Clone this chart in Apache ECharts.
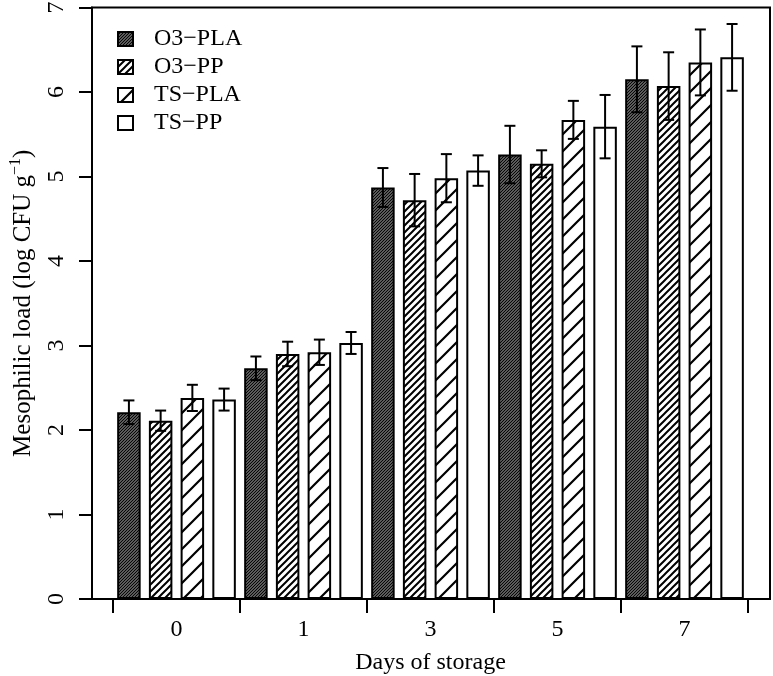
<!DOCTYPE html>
<html>
<head>
<meta charset="utf-8">
<script src="https://cdn.jsdelivr.net/npm/echarts@6/dist/echarts.min.js"></script>
<style>html,body{margin:0;padding:0;background:#fff}#c{width:773px;height:676px}</style>
</head>
<body>
<div id="c"></div>
<script>
// ---- data ----
const categories = ['0', '1', '3', '5', '7'];
const seriesNames = ['O3−PLA', 'O3−PP', 'TS−PLA', 'TS−PP'];
const o3plaMean = [2.21, 2.73, 4.87, 5.26, 6.15];
const o3plaErr  = [0.14, 0.14, 0.23, 0.34, 0.39];
const o3ppMean  = [2.11, 2.90, 4.72, 5.15, 6.07];
const o3ppErr   = [0.12, 0.145, 0.31, 0.16, 0.40];
const tsplaMean = [2.38, 2.92, 4.98, 5.67, 6.35];
const tsplaErr  = [0.155, 0.15, 0.285, 0.225, 0.39];
const tsppMean  = [2.36, 3.03, 5.07, 5.59, 6.41];
const tsppErr   = [0.13, 0.13, 0.18, 0.375, 0.395];
const yMin = 0, yMax = 7, yStep = 1;

const means = [o3plaMean, o3ppMean, tsplaMean, tsppMean];
const errs = [o3plaErr, o3ppErr, tsplaErr, tsppErr];

// ---- hatch patterns ----
function hatch(size, lw, bg, fg) {
  const c = document.createElement('canvas');
  c.width = size; c.height = size;
  const g = c.getContext('2d');
  g.fillStyle = bg; g.fillRect(0, 0, size, size);
  if (fg) {
    g.strokeStyle = fg; g.lineWidth = lw;
    g.beginPath();
    g.moveTo(-1, size + 1); g.lineTo(size + 1, -1);
    g.moveTo(-size / 2 - 1, size / 2 + 1); g.lineTo(size / 2 + 1, -size / 2 - 1);
    g.moveTo(size / 2 - 1, size * 1.5 + 1); g.lineTo(size * 1.5 + 1, size / 2 - 1);
    g.stroke();
  }
  return { image: c, repeat: 'repeat' };
}
const fills = [
  hatch(3, 1.1, '#808080', '#000'),
  hatch(7, 2, '#fff', '#000'),
  hatch(17, 2.2, '#fff', '#000'),
  '#ffffff'
];

const FONT = 'Liberation Serif';
const FS = 24;
const BAR_W = 23.5;
const BAR_GAP = 0.35;

const series = seriesNames.map((n, i) => ({
  name: n,
  type: 'bar',
  xAxisIndex: 0, yAxisIndex: 0,
  data: means[i],
  barWidth: BAR_W,
  barGap: (BAR_GAP * 100) + '%',
  itemStyle: { color: fills[i], borderColor: '#000', borderWidth: 2 },
  emphasis: { disabled: true },
  z: 2
}));

const errData = [];
for (let s = 0; s < 4; s++) {
  for (let k = 0; k < categories.length; k++) {
    errData.push([k, means[s][k], errs[s][k], s]);
  }
}
series.push({
  type: 'custom',
  xAxisIndex: 0, yAxisIndex: 0,
  data: errData,
  z: 5,
  silent: true,
  renderItem: function (params, api) {
    const k = api.value(0), v = api.value(1), e = api.value(2), s = api.value(3);
    const stride = BAR_W * (1 + BAR_GAP);
    const dx = (s - 1.5) * stride;
    const top = api.coord([k, v + e]);
    const bot = api.coord([k, v - e]);
    const x = top[0] + dx;
    const cap = 5.5;
    const st = { stroke: '#000', lineWidth: 2 };
    return {
      type: 'group',
      children: [
        { type: 'line', shape: { x1: x, y1: top[1], x2: x, y2: bot[1] }, style: st },
        { type: 'line', shape: { x1: x - cap, y1: top[1], x2: x + cap, y2: top[1] }, style: st },
        { type: 'line', shape: { x1: x - cap, y1: bot[1], x2: x + cap, y2: bot[1] }, style: st }
      ]
    };
  }
});

const chart = echarts.init(document.getElementById('c'), null, { renderer: 'canvas' });
chart.setOption({
  animation: false,
  backgroundColor: '#fff',
  textStyle: { fontFamily: FONT, color: '#000' },
  grid: [
    { left: 113, right: 25, top: 7.5, bottom: 77, outerBoundsMode: 'none', containLabel: false },
    { left: 92, right: 3, top: 7.5, bottom: 77, outerBoundsMode: 'none', containLabel: false,
      show: true, borderColor: '#000', borderWidth: 2, backgroundColor: 'transparent' }
  ],
  legend: {
    data: seriesNames,
    orient: 'vertical',
    left: 112, top: 22,
    itemWidth: 15, itemHeight: 14,
    itemGap: 4,
    icon: 'rect',
    textStyle: { fontFamily: FONT, fontSize: FS, color: '#000', padding: [0, 0, 0, 16] }
  },
  xAxis: [
    {
      gridIndex: 0, type: 'category', data: categories, boundaryGap: true,
      axisLine: { show: true, lineStyle: { color: '#000', width: 2 } },
      axisTick: { show: true, length: 14, lineStyle: { color: '#000', width: 2 } },
      axisLabel: { fontFamily: FONT, fontSize: FS, color: '#000', margin: 19 },
      name: 'Days of storage', nameLocation: 'middle', nameGap: 52,
      nameTextStyle: { fontFamily: FONT, fontSize: FS, color: '#000' }
    },
    { gridIndex: 1, type: 'value', show: false, min: 0, max: 1 }
  ],
  yAxis: [
    { gridIndex: 0, type: 'value', show: false, min: yMin, max: yMax, interval: yStep },
    {
      gridIndex: 1, type: 'value', min: yMin, max: yMax, interval: yStep,
      axisLine: { show: true, lineStyle: { color: '#000', width: 2 } },
      axisTick: { show: true, length: 13, lineStyle: { color: '#000', width: 2 } },
      splitLine: { show: false },
      axisLabel: { fontFamily: FONT, fontSize: FS, color: '#000', rotate: 90, margin: 23 },
      name: '{a|Mesophilic load (log CFU g}{s|−1}{a|)}',
      nameLocation: 'middle', nameRotate: 90, nameGap: 54,
      nameTextStyle: {
        rich: {
          a: { fontFamily: FONT, fontSize: 25, color: '#000', lineHeight: 30 },
          s: { fontFamily: FONT, fontSize: 16, color: '#000', lineHeight: 16, verticalAlign: 'top' }
        }
      }
    }
  ],
  series: series
});
</script>
</body>
</html>
